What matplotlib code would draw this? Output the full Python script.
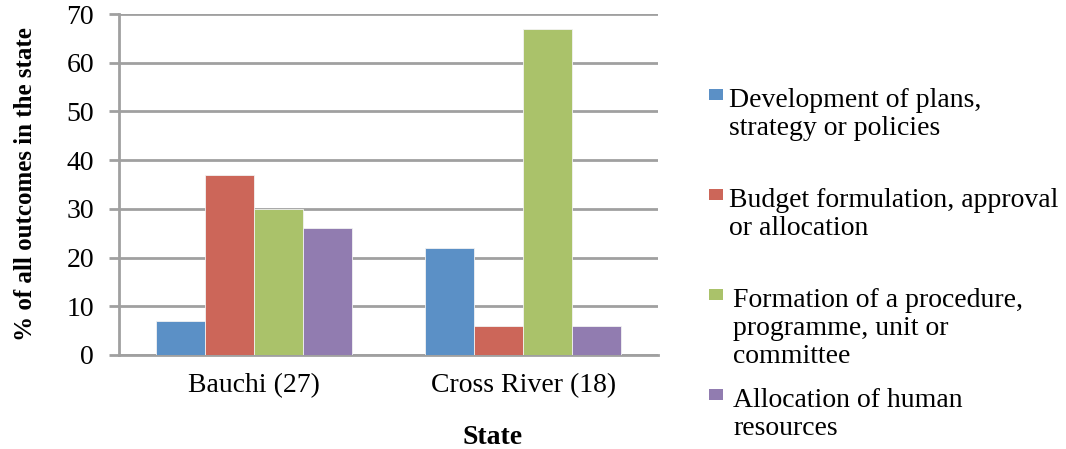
import matplotlib
matplotlib.use("Agg")
import matplotlib.pyplot as plt
from matplotlib.patches import Rectangle
import numpy as np

# Data
states = ["Bauchi (27)", "Cross River (18)"]
series_names = [
    "Development of plans,\nstrategy or policies",
    "Budget formulation, approval\nor allocation",
    "Formation of a procedure,\nprogramme, unit or\ncommittee",
    "Allocation of human\nresources",
]
development = [7, 22]
budget = [37, 6]
formation = [30, 67]
human_resources = [26, 6]
yticks = [0, 10, 20, 30, 40, 50, 60, 70]

series_values = [development, budget, formation, human_resources]
colors = ["#5B90C6", "#CC6659", "#AAC26A", "#917CB0"]
grid_col = "#A0A0A0"
font = "Liberation Serif"
fs = 20

W, H = 1066, 449
fig = plt.figure(figsize=(W / 100, H / 100), dpi=100)
ax = fig.add_axes([119 / W, 1 - 355 / H, (658 - 119) / W, (355 - 14) / H])

n = len(series_values)
bw = 1 / 5.5
x = np.arange(len(states))
for i, (vals, c) in enumerate(zip(series_values, colors)):
    ax.bar(x + (i - (n - 1) / 2) * bw, vals, width=bw, color=c,
           edgecolor="#F2F2F2", linewidth=0.6, zorder=3)

ax.set_xlim(-0.5, 1.5)
ax.set_ylim(0, 70)
ax.set_yticks(yticks)
ax.set_xticks(x)
ax.set_xticklabels(states, fontfamily=font, fontsize=fs)
ax.tick_params(axis="x", length=0, pad=13)
ax.tick_params(axis="y", length=7, width=2, color=grid_col, pad=11,
               labelsize=fs)
for lab in ax.get_yticklabels():
    lab.set_fontfamily(font)
ax.yaxis.grid(True, color=grid_col, linewidth=2, zorder=0)
for s in ["top", "right"]:
    ax.spines[s].set_visible(False)
ax.spines["left"].set_color(grid_col)
ax.spines["left"].set_linewidth(2)
ax.spines["bottom"].set_color(grid_col)
ax.spines["bottom"].set_linewidth(2)

ax.set_ylabel("% of all outcomes in the state", fontfamily=font,
              fontsize=18, fontweight="bold", labelpad=21)
fig.text(493 / W, 1 - 437 / H, "State", fontfamily=font, fontsize=fs,
         fontweight="bold", ha="center", va="center")

# Legend with evenly spaced entries, square aligned to the first line
entry_tops = [89, 189, 289, 389]
text_x = [729, 729, 733, 733]
for name, c, top, tx in zip(series_names, colors, entry_tops, text_x):
    fig.patches.append(Rectangle((709 / W, 1 - (top + 11) / H), 14 / W, 11 / H,
                                 transform=fig.transFigure, facecolor=c,
                                 edgecolor="none"))
    for k, line in enumerate(name.split("\n")):
        fig.text(tx / W, 1 - (top + 18 + 28 * k) / H, line, fontfamily=font,
                 fontsize=fs, ha="left", va="baseline")

fig.savefig("out.png", dpi=100)
